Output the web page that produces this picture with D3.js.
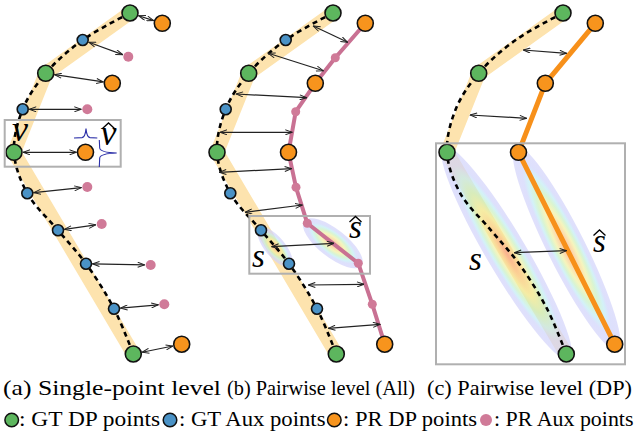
<!DOCTYPE html>
<html>
<head>
<meta charset="utf-8">
<script src="https://cdn.jsdelivr.net/npm/d3@7"></script>
<style>
  body { margin: 0; background: #fff; }
  #wrap { position: relative; width: 637px; height: 439px; }
  svg { display: block; position: absolute; left: 0; top: 0; }
  .lbl { position: absolute; white-space: nowrap; line-height: 1; color: #000;
         font-family: "Liberation Serif"; transform-origin: 0 0; }
</style>
</head>
<body>
<div id="wrap">
<svg id="chart" width="637" height="439"></svg>
</div>
<script>
// panel origins (x); the three panels share the same GT shape
const panelX = [0, 203, 433];

// GT / PR points, in panel (a) coordinates
const gtDP = [[130, 13], [45.7, 73.3], [14, 152.3], [133.3, 354]];
const gtAux = [[82.7, 40], [22.7, 109.3], [27.3, 193.3], [58, 230.3], [86, 263.7], [114, 308.7]];
const prDP = [[162.3, 23.3], [112.3, 83.3], [85.5, 152.3], [181.7, 344.2]];
const prAuxA = [[128.3, 56.7], [87.3, 109.3], [87.3, 187], [101.7, 224], [150.7, 265], [164.3, 304.3]];
const prAuxB = [[132.3, 57.7], [92.7, 111.7], [93, 187.3], [104.3, 223.3], [155.3, 263.3], [169.3, 304.3]];

// which point each GT point is matched to in panel (a)
const pairsA = [["dp", 0], ["aux", 0], ["dp", 1], ["aux", 1], ["dp", 2], ["aux", 2], ["aux", 3], ["aux", 4], ["aux", 5], ["dp", 3]];

// distance arrows between the curves, panel-local [x1, y1, x2, y2]
const arrowsB = [
    [110.3, 26, 144.7, 42.3], [65.3, 53.3, 120.3, 70.7], [33, 94, 103.7, 97.7],
    [17, 132.3, 89.3, 132.3], [16.3, 172.3, 88.7, 168.7], [42, 212.3, 99.3, 205],
    [68.7, 246.7, 131, 243.3], [105.3, 285, 161, 284.3], [125.3, 328.3, 177, 324.3]
];
const arrowsC = [[90.3, 50, 133.7, 53.3], [37, 115, 93.7, 118.3], [81.3, 252.7, 133.7, 250.7]];

// zoom boxes (absolute)
const focusBoxes = [[4.7, 120, 120.7, 166.7], [249.3, 216, 370, 273.7], [436, 143.3, 625, 364.3]];

const captions = [
    { text: "(a) Single-point level", x0: 3, x1: 221 },
    { text: "(b) Pairwise level (All)", x0: 227, x1: 415 },
    { text: "(c) Pairwise level (DP)", x0: 427, x1: 632 }
];
const legendItems = [
    { key: "gtDP", text: ": GT DP points", cx: 11.7, x0: 19, x1: 160 },
    { key: "gtAux", text: ": GT Aux points", cx: 170, x0: 178.5, x1: 325 },
    { key: "prDP", text: ": PR DP points", cx: 334.3, x0: 342.5, x1: 476.5 },
    { key: "prAux", text: ": PR Aux points", cx: 486, x0: 493.5, x1: 633 }
];

const colors = {
    gtDP: "#5db65e",
    gtAux: "#4a92c6",
    prDP: "#f7941d",
    prAux: "#d07a98",
    band: "#fde3ae",
    prLineB: "#c97193",
    prLineC: "#f7901a",
    box: "#b0b0b0",
    spike: "#2b2fa8"
};
const radius = { gtDP: 8, gtAux: 5.5, prDP: 8, prAux: 5 };

const svg = d3.select("#chart");
const defs = svg.append("defs");

defs.append("marker")
    .attr("id", "head")
    .attr("viewBox", "0 0 8 6")
    .attr("refX", 7.5).attr("refY", 3)
    .attr("markerWidth", 8).attr("markerHeight", 6)
    .attr("markerUnits", "userSpaceOnUse")
    .attr("orient", "auto-start-reverse")
    .append("path")
    .attr("d", "M0.5,0.5 L7.5,3 L0.5,5.5")
    .attr("fill", "none")
    .attr("stroke", "#222")
    .attr("stroke-width", 1);

const grad = defs.append("radialGradient").attr("id", "rainbow");
[
    [0, "#f79a80"], [0.2, "#fbc98a"], [0.4, "#f2f0a0"], [0.56, "#c8f0c0"],
    [0.7, "#c0ecf4"], [0.82, "#cfd3fb"], [1, "#d3d3fa"]
].forEach(([o, c]) => grad.append("stop").attr("offset", o).attr("stop-color", c));

const yScale = d3.scaleLinear().domain([0, 439]).range([0, 439]);
const xScaleFor = i => d3.scaleLinear().domain([0, 637]).range([panelX[i], panelX[i] + 637]);

const byY = (a, b) => a[1] - b[1];
const gtAll = gtDP.concat(gtAux).sort(byY);

function drawPanel(i) {
    const x = xScaleFor(i);
    const g = svg.append("g");
    const px = d => x(d[0]), py = d => yScale(d[1]);

    // yellow band through GT DP points
    g.append("path")
        .attr("d", d3.line().x(px).y(py)(gtDP))
        .attr("fill", "none")
        .attr("stroke", colors.band)
        .attr("stroke-width", 14)
        .attr("stroke-linejoin", "round");

    // uncertainty ellipses
    const ellipse = (a, b, pad, ry) => {
        const x1 = px(a), y1 = py(a), x2 = px(b), y2 = py(b);
        const len = Math.hypot(x2 - x1, y2 - y1) / 2 + pad;
        const ang = Math.atan2(y2 - y1, x2 - x1) * 180 / Math.PI;
        g.append("ellipse")
            .attr("transform", `translate(${(x1 + x2) / 2},${(y1 + y2) / 2}) rotate(${ang})`)
            .attr("rx", len).attr("ry", ry)
            .attr("fill", "url(#rainbow)")
            .attr("opacity", 0.7);
    };
    if (i === 1) {
        ellipse(gtAux[3], gtAux[4], 3, 10);
    }
    if (i === 2) {
        ellipse(gtDP[2], gtDP[3], 7, 20);
        ellipse(prDP[2], prDP[3], 7, 19);
    }

    // dashed GT curve
    g.append("path")
        .attr("d", d3.line().x(px).y(py).curve(d3.curveCatmullRom.alpha(0.5))(gtAll))
        .attr("fill", "none")
        .attr("stroke", "#000")
        .attr("stroke-width", 2.6)
        .attr("stroke-dasharray", "5,4");

    if (i === 1) {
        ellipse(prAuxB[3], prAuxB[4], 4, 14);
        g.append("path")
            .attr("d", d3.line().x(px).y(py)(prDP.concat(prAuxB).sort(byY)))
            .attr("fill", "none")
            .attr("stroke", colors.prLineB)
            .attr("stroke-width", 4)
            .attr("stroke-linejoin", "round");
    }
    if (i === 2) {
        g.append("path")
            .attr("d", d3.line().x(px).y(py)(prDP))
            .attr("fill", "none")
            .attr("stroke", colors.prLineC)
            .attr("stroke-width", 5)
            .attr("stroke-linejoin", "round");
    }

    // arrows
    const arrow = (x1, y1, x2, y2) => g.append("line")
        .attr("x1", x1).attr("y1", y1).attr("x2", x2).attr("y2", y2)
        .attr("stroke", "#222").attr("stroke-width", 1.2)
        .attr("marker-start", "url(#head)")
        .attr("marker-end", "url(#head)");

    if (i === 0) {
        pairsA.forEach(([kind, k]) => {
            const a = kind === "dp" ? gtDP[k] : gtAux[k];
            const b = kind === "dp" ? prDP[k] : prAuxA[k];
            const ra = (kind === "dp" ? radius.gtDP : radius.gtAux) + 1;
            const rb = (kind === "dp" ? radius.prDP : radius.prAux) + 1;
            const x1 = px(a), y1 = py(a), x2 = px(b), y2 = py(b);
            const d = Math.hypot(x2 - x1, y2 - y1);
            const ux = (x2 - x1) / d, uy = (y2 - y1) / d;
            arrow(x1 + ux * ra, y1 + uy * ra, x2 - ux * rb, y2 - uy * rb);
        });
    } else {
        (i === 1 ? arrowsB : arrowsC).forEach(d =>
            arrow(x(d[0]), yScale(d[1]), x(d[2]), yScale(d[3])));
    }

    // points
    const dots = (data, key, stroke) => g.selectAll(null)
        .data(data).enter().append("circle")
        .attr("cx", px).attr("cy", py)
        .attr("r", i === 1 && key === "prAux" ? 4.5 : radius[key])
        .attr("fill", colors[key])
        .attr("stroke", stroke ? "#111" : "none")
        .attr("stroke-width", 1.6);

    if (i === 0) dots(prAuxA, "prAux", false);
    if (i === 1) dots(prAuxB, "prAux", false);
    dots(prDP, "prDP", true);
    if (i < 2) dots(gtAux, "gtAux", true);
    dots(gtDP, "gtDP", true);
}

[0, 1, 2].forEach(drawPanel);

// zoom boxes
svg.selectAll(null).data(focusBoxes).enter().append("rect")
    .attr("x", d => d[0]).attr("y", d => d[1])
    .attr("width", d => d[2] - d[0]).attr("height", d => d[3] - d[1])
    .attr("fill", "none")
    .attr("stroke", colors.box)
    .attr("stroke-width", 2);

// blue peak glyphs in panel (a)
svg.append("path")
    .attr("d", "M74,138 L82,137.6 C84.8,137.2 85.6,133 86,128.6 C86.4,133 87.2,137.2 90,137.6 L97.3,138")
    .attr("fill", "none").attr("stroke", colors.spike).attr("stroke-width", 1.1);
svg.append("path")
    .attr("d", "M99.3,140 L99.7,148 C100.1,151 104,152.6 116.7,153 C104,153.4 100.1,155 99.7,158 L99.3,167")
    .attr("fill", "none").attr("stroke", colors.spike).attr("stroke-width", 1.1);

// legend dots
svg.selectAll(null).data(legendItems).enter().append("circle")
    .attr("cx", d => d.cx).attr("cy", 420)
    .attr("r", d => d.key === "prAux" ? 6 : 6.8)
    .attr("fill", d => colors[d.key])
    .attr("stroke", d => d.key === "prAux" ? "none" : "#111")
    .attr("stroke-width", 1.5);

// text as HTML over the svg (Liberation Serif, baseline-placed)
const wrap = d3.select("#wrap");
const ASC = 0.8375; // baseline offset from top of a line-height:1 box
function label(text, size, baseline, opts) {
    const s = wrap.append("div").attr("class", "lbl")
        .style("font-size", size + "px")
        .style("font-style", opts.italic ? "italic" : "normal")
        .style("top", (baseline - ASC * size) + "px")
        .text(text);
    const w = s.node().getBoundingClientRect().width;
    if (opts.x1 !== undefined) {
        s.style("left", opts.x0 + "px")
            .style("transform", `scaleX(${(opts.x1 - opts.x0) / w})`);
    } else {
        s.style("left", (opts.cx - w / 2) + "px");
    }
    return s;
}

captions.forEach(d => label(d.text, 22, 395, { x0: d.x0, x1: d.x1 }));
legendItems.forEach(d => label(d.text, 22, 426, { x0: d.x0, x1: d.x1 }));

// math labels
const mathLabels = [
    { t: "v", x: 20, y: 141.5, size: 36, hat: false },
    { t: "v", x: 108.5, y: 145, size: 36, hat: true, hatY: 123 },
    { t: "s", x: 258.3, y: 267.5, size: 33, hat: false },
    { t: "s", x: 355.5, y: 238.3, size: 33, hat: true, hatY: 216.5 },
    { t: "s", x: 475.5, y: 270.7, size: 33, hat: false },
    { t: "s", x: 599.5, y: 252.7, size: 33, hat: true, hatY: 230 }
];
mathLabels.forEach(d => {
    label(d.t, d.size, d.y, { italic: true, cx: d.x });
    if (d.hat) {
        svg.append("path")
            .attr("d", `M${d.x - 6},${d.hatY + 5.5} L${d.x},${d.hatY} L${d.x + 6},${d.hatY + 5.5}`)
            .attr("fill", "none").attr("stroke", "#000").attr("stroke-width", 1.3);
    }
});
</script>
</body>
</html>
